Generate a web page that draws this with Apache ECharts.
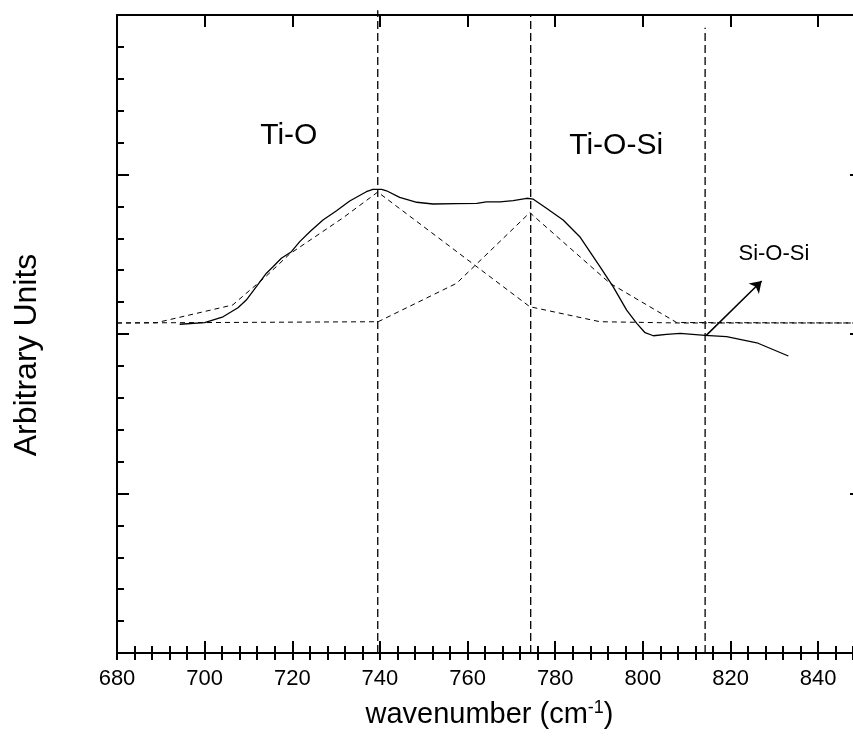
<!DOCTYPE html>
<html>
<head>
<meta charset="utf-8">
<script src="https://cdn.jsdelivr.net/npm/echarts/dist/echarts.min.js"></script>
<style>
  html, body { margin: 0; padding: 0; background: #fff; overflow: hidden; }
  /* The frame runs slightly past the right edge of the page, so its right side is cut off */
  #chart { width: 862px; height: 750px; }
</style>
</head>
<body>
<div id="chart"></div>
<script>
// Measured FTIR spectrum (solid line)
const spectrumX = [694.3, 700.0, 704.2, 707.6, 709.5, 711.8, 714.1, 715.6, 717.5, 719.8, 721.7, 724.0, 727.0, 730.1, 733.1, 736.9, 738.4, 740.4, 741.5, 744.5, 748.4, 752.1, 757.5, 762.1, 764.3, 767.4, 770.4, 773.5, 775.0, 778.0, 781.8, 785.6, 790.2, 793.2, 796.3, 798.6, 800.5, 802.4, 805.4, 808.5, 814.2, 819.1, 826.0, 833.2];
const spectrumY = [2.061, 2.071, 2.108, 2.165, 2.213, 2.297, 2.381, 2.422, 2.475, 2.516, 2.579, 2.641, 2.715, 2.773, 2.834, 2.892, 2.907, 2.907, 2.898, 2.857, 2.826, 2.815, 2.817, 2.819, 2.828, 2.828, 2.836, 2.851, 2.845, 2.788, 2.715, 2.610, 2.422, 2.297, 2.150, 2.067, 2.008, 1.989, 1.998, 2.004, 1.992, 1.983, 1.945, 1.862];

// Deconvoluted components (dashed lines)
const tioX = [680, 689.0, 706.4, 714.1, 719.4, 731.5, 739.5, 774.2, 790.2, 808.4, 850];
const tioY = [2.069, 2.071, 2.182, 2.364, 2.502, 2.727, 2.890, 2.171, 2.077, 2.069, 2.069];
const tiosiX = [680, 739.6, 757.5, 774.2, 792.5, 807.7, 850];
const tiosiY = [2.069, 2.077, 2.318, 2.761, 2.318, 2.072, 2.069];

// Band positions (vertical guides) and the height each guide reaches
const bandPositions = [739.5, 774.4, 814.2];
const bandTop = [4.03, 4.0, 3.92];

// Band labels
const bandNames = ['Ti-O', 'Ti-O-Si', 'Si-O-Si'];
const bandLabelX = [719.2, 793.9, 829.9];
const bandLabelY = [3.241, 3.179, 2.502];
const bandLabelSize = [30, 30, 22];

// Si-O-Si pointer: start and end
const arrowFrom = [814.4, 1.99];
const arrowTo = [827.1, 2.332];

const xTicksMajor = 20;
const xTicksMinor = 4;

const FONT = '"Liberation Sans", Arial, Helvetica, sans-serif';
const zip = (xs, ys) => xs.map((x, i) => [x, ys[i]]);

const chart = echarts.init(document.getElementById('chart'), null, { renderer: 'canvas' });

const gridRect = { left: 117, right: 0, top: 15, bottom: 97 };
const axisLine = { show: true, onZero: false, lineStyle: { color: '#000', width: 2 } };
const majorTick = { show: true, inside: true, length: 12, lineStyle: { color: '#000', width: 2 } };
const minorTickStyle = { show: true, inside: true, length: 7, lineStyle: { color: '#000', width: 2 } };

const option = {
  backgroundColor: '#fff',
  animation: false,
  grid: [Object.assign({}, gridRect), Object.assign({}, gridRect)],
  xAxis: [
    {
      gridIndex: 0, type: 'value', position: 'bottom', min: 680, max: 850, interval: xTicksMajor,
      axisLine: axisLine, axisTick: majorTick,
      axisLabel: { show: true, margin: 15, color: '#000', fontSize: 22, fontFamily: FONT, showMaxLabel: false },
      splitLine: { show: false },
      name: 'wavenumber (cm{sup|-1})',
      nameLocation: 'middle', nameGap: 46,
      nameTextStyle: {
        color: '#000', fontSize: 29, fontFamily: FONT,
        rich: { sup: { fontSize: 18, fontFamily: FONT, color: '#000', verticalAlign: 'top', padding: [0, 0, 14, 0] } }
      }
    },
    {
      gridIndex: 0, type: 'value', position: 'top', min: 680, max: 850, interval: xTicksMajor,
      axisLine: axisLine, axisTick: majorTick,
      axisLabel: { show: false }, splitLine: { show: false }
    },
    {
      gridIndex: 1, type: 'value', position: 'bottom', min: 680, max: 850, interval: xTicksMinor,
      axisLine: { show: false }, axisTick: minorTickStyle,
      axisLabel: { show: false }, splitLine: { show: false }
    },
    {
      gridIndex: 1, type: 'value', position: 'top', min: 680, max: 850, interval: xTicksMinor,
      axisLine: { show: false }, axisTick: minorTickStyle,
      axisLabel: { show: false }, splitLine: { show: false }
    }
  ],
  yAxis: [
    {
      gridIndex: 0, type: 'value', position: 'left', min: 0, max: 4, interval: 1,
      axisLine: axisLine, axisTick: majorTick,
      minorTick: { show: true, splitNumber: 5, length: 7, lineStyle: { color: '#000', width: 2 } },
      axisLabel: { show: false }, splitLine: { show: false }
    },
    {
      gridIndex: 0, type: 'value', position: 'right', min: 0, max: 4, interval: 1,
      axisLine: axisLine, axisTick: majorTick,
      minorTick: { show: true, splitNumber: 5, length: 7, lineStyle: { color: '#000', width: 2 } },
      axisLabel: { show: false }, splitLine: { show: false }
    },
    { gridIndex: 1, type: 'value', min: 0, max: 4, show: false },
    { gridIndex: 1, type: 'value', min: 0, max: 4, show: false }
  ],
  series: [
    {
      name: 'Ti-O component', type: 'line', xAxisIndex: 0, yAxisIndex: 0,
      data: zip(tioX, tioY), symbol: 'none', silent: true,
      lineStyle: { color: '#000', width: 1, type: [5, 4] }
    },
    {
      name: 'Ti-O-Si component', type: 'line', xAxisIndex: 0, yAxisIndex: 0,
      data: zip(tiosiX, tiosiY), symbol: 'none', silent: true,
      lineStyle: { color: '#000', width: 1, type: [5, 4] }
    },
    {
      name: 'Spectrum', type: 'line', xAxisIndex: 0, yAxisIndex: 0,
      data: zip(spectrumX, spectrumY), symbol: 'none', silent: true,
      lineStyle: { color: '#000', width: 1.3 }
    }
  ].concat(bandPositions.map((p, i) => ({
    name: 'band ' + i, type: 'line', xAxisIndex: 0, yAxisIndex: 0,
    data: [[p, 0], [p, bandTop[i]]], symbol: 'none', silent: true, clip: false,
    lineStyle: { color: '#000', width: 1.3, type: [8, 4] }
  }))).concat([{
    name: 'pointer', type: 'lines', coordinateSystem: 'cartesian2d', xAxisIndex: 0, yAxisIndex: 0,
    data: [{ coords: [arrowFrom, arrowTo] }],
    symbol: ['none', 'arrow'], symbolSize: 11, silent: true,
    lineStyle: { color: '#000', width: 1.5, opacity: 1, curveness: 0 }
  }])
};

chart.setOption(option);

// Band labels placed in data coordinates
const labels = bandNames.map((t, i) => {
  const pt = chart.convertToPixel({ xAxisIndex: 0, yAxisIndex: 0 }, [bandLabelX[i], bandLabelY[i]]);
  return {
    type: 'text', x: pt[0], y: pt[1], silent: true,
    style: { text: t, fill: '#000', font: bandLabelSize[i] + 'px ' + FONT, align: 'center', verticalAlign: 'middle' }
  };
});
// Vertical axis title
labels.push({
  type: 'text', x: 27, y: 355, rotation: Math.PI / 2, silent: true,
  style: { text: 'Arbitrary Units', fill: '#000', font: '32px ' + FONT, align: 'center', verticalAlign: 'middle' }
});
chart.setOption({ graphic: labels });
</script>
</body>
</html>
